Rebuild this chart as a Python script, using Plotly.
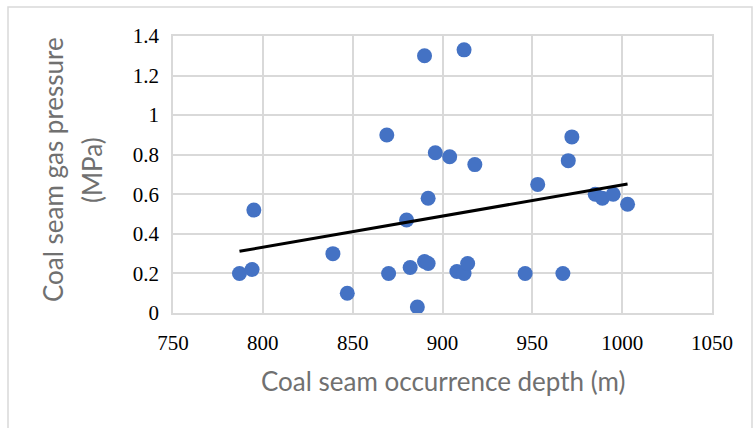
import numpy as np
import plotly.graph_objects as go

depth = [787, 794, 795, 839, 847, 870, 869, 880, 882, 886, 890, 890, 892, 892, 896,
         904, 908, 912, 912, 914, 918, 946, 953, 967, 970, 972, 985, 989, 995, 1003]
pressure = [0.20, 0.22, 0.52, 0.30, 0.10, 0.20, 0.90, 0.47, 0.23, 0.03, 0.26, 1.30, 0.58, 0.25, 0.81,
            0.79, 0.21, 1.33, 0.20, 0.25, 0.75, 0.20, 0.65, 0.20, 0.77, 0.89, 0.60, 0.58, 0.60, 0.55]

x_ticks = [750, 800, 850, 900, 950, 1000, 1050]
y_ticks = [0, 0.2, 0.4, 0.6, 0.8, 1.0, 1.2, 1.4]
y_tick_text = ["0", "0.2", "0.4", "0.6", "0.8", "1", "1.2", "1.4"]

x_title = "Coal seam occurrence depth (m)"
y_title_lines = ["Coal seam gas pressure", "(MPa)"]

slope, intercept = np.polyfit(depth, pressure, 1)
tx = np.array([min(depth), max(depth)])
ty = slope * tx + intercept

fig = go.Figure()
fig.add_trace(go.Scatter(x=depth, y=pressure, mode="markers",
                         marker=dict(color="#4472C4", size=15, line=dict(width=0)),
                         showlegend=False))
fig.add_trace(go.Scatter(x=tx, y=ty, mode="lines",
                         line=dict(color="black", width=3), showlegend=False))

grid = "#d9d9d9"
tick_font = dict(family="Liberation Serif", size=21, color="black")
title_font = dict(family="Lato", size=26, color="#707070")

fig.update_xaxes(range=[750, 1050], tickvals=x_ticks, showgrid=True, gridcolor=grid, gridwidth=1.5,
                 showline=True, linecolor=grid, linewidth=1.5, mirror=True, zeroline=False,
                 tickfont=tick_font, ticks="", ticklabelstandoff=10)
fig.update_yaxes(range=[0, 1.4], tickvals=y_ticks, ticktext=y_tick_text, showgrid=True, gridcolor=grid,
                 gridwidth=1.5, showline=True, linecolor=grid, linewidth=1.5, mirror=True, zeroline=False,
                 tickfont=tick_font, ticks="", ticklabelstandoff=8)

pw, ph = 539, 277
annotations = [
    dict(text=x_title, xref="paper", yref="paper", x=0.5, y=(313 - 381) / ph,
         xanchor="center", yanchor="middle", showarrow=False, font=title_font),
    dict(text=y_title_lines[0], xref="paper", yref="paper", x=(53 - 173) / pw, y=(313 - 170) / ph,
         xanchor="center", yanchor="middle", showarrow=False, font=title_font, textangle=-90),
    dict(text=y_title_lines[1], xref="paper", yref="paper", x=(92 - 173) / pw, y=(313 - 170) / ph,
         xanchor="center", yanchor="middle", showarrow=False, font=title_font, textangle=-90),
]

fig.update_layout(width=753, height=428, margin=dict(l=173, r=41, t=36, b=115),
                  plot_bgcolor="white", paper_bgcolor="white", annotations=annotations,
                  shapes=[dict(type="rect", xref="paper", yref="paper",
                               x0=(8 - 173) / pw, x1=(752 - 173) / pw,
                               y0=(313 - 440) / ph, y1=(313 - 7) / ph,
                               line=dict(color="#d9d9d9", width=1.5), layer="below")])

fig.write_html("out.html")
